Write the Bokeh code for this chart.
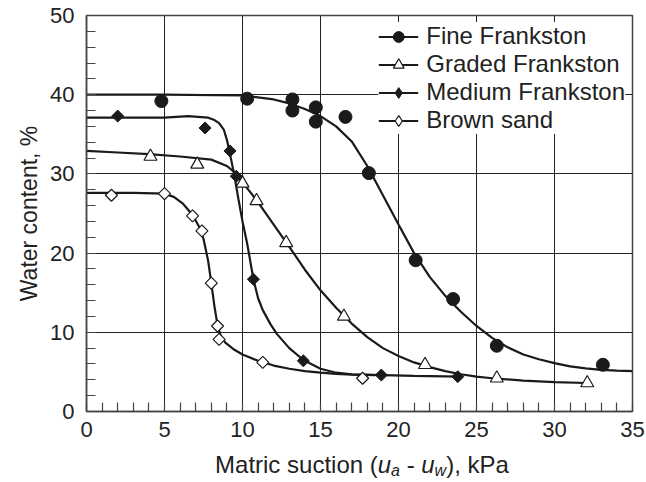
from bokeh.plotting import figure
from bokeh.layouts import column
from bokeh.models import SingleIntervalTicker, Legend, LegendItem, Range1d
from bokeh.core.properties import value
from bokeh.embed import file_html
from bokeh.resources import INLINE

# ---- measured points ----
fine_x = [4.8, 10.3, 13.2, 13.2, 14.7, 14.7, 16.6, 18.1, 21.1, 23.5, 26.3, 33.1]
fine_y = [39.2, 39.5, 39.4, 38.0, 38.4, 36.6, 37.2, 30.1, 19.1, 14.2, 8.3, 5.9]

graded_x = [4.1, 7.1, 10.0, 10.9, 12.8, 16.5, 21.7, 26.3, 32.1]
graded_y = [32.2, 31.2, 28.8, 26.6, 21.3, 12.0, 5.9, 4.2, 3.6]

medium_x = [2.0, 7.6, 9.2, 9.6, 10.7, 13.9, 18.9, 23.8]
medium_y = [37.3, 35.8, 32.9, 29.7, 16.7, 6.4, 4.6, 4.4]

brown_x = [1.6, 5.0, 6.8, 7.4, 8.0, 8.4, 8.5, 11.3, 17.7]
brown_y = [27.3, 27.5, 24.7, 22.8, 16.2, 10.8, 9.1, 6.2, 4.2]

# ---- fitted curves ----
fine_cx = [0, 5, 10, 12, 13, 14, 15, 16, 17, 18, 19, 20, 21, 22, 23, 24, 25, 26, 27, 28, 29, 30, 31, 32, 33, 34, 35]
fine_cy = [40, 40, 39.9, 39.4, 38.9, 38.2, 37.3, 36.0, 34.1, 31.0, 27.3, 23.6, 20.0, 17.0, 14.6, 12.6, 10.8, 9.3, 8.1, 7.2, 6.6, 6.1, 5.7, 5.45, 5.25, 5.15, 5.1]

graded_cx = [0, 2, 4, 6, 8, 9, 9.5, 10, 10.5, 11, 12, 13, 14, 15, 16, 17, 18, 19, 20, 21, 22, 23, 24, 25, 26, 28, 30, 32]
graded_cy = [32.9, 32.7, 32.5, 32.2, 31.8, 31.0, 30.2, 28.9, 27.7, 26.4, 23.6, 20.8, 17.9, 15.3, 13.1, 11.1, 9.4, 8.0, 7.0, 6.2, 5.6, 5.1, 4.7, 4.4, 4.2, 3.9, 3.7, 3.6]

medium_cx = [0, 5, 6.5, 7.8, 8.2, 8.5, 8.8, 9.0, 9.2, 9.45, 9.75, 10.0, 10.3, 10.7, 11.0, 11.3, 11.8, 12.2, 13.0, 13.9, 15, 16, 17, 19, 21, 24]
medium_cy = [37.1, 37.1, 37.3, 37.1, 36.8, 36.4, 35.6, 34.3, 32.5, 30.1, 26.7, 24.0, 21.2, 16.7, 14.3, 12.8, 11.0, 9.8, 8.0, 6.5, 5.4, 4.9, 4.7, 4.6, 4.5, 4.4]

brown_cx = [0, 3, 5, 5.6, 6.2, 6.8, 7.2, 7.5, 7.8, 8.0, 8.2, 8.4, 8.6, 8.9, 9.4, 10, 11, 12, 13, 14, 15, 16, 17, 18.5]
brown_cy = [27.6, 27.6, 27.5, 27.1, 26.2, 24.8, 23.4, 21.8, 19.0, 16.2, 13.3, 10.9, 9.6, 8.7, 7.9, 7.2, 6.4, 5.8, 5.4, 5.1, 4.9, 4.75, 4.65, 4.6]

series_names = ["Fine Frankston", "Graded Frankston", "Medium Frankston", "Brown sand"]
y_title = "Water content, %"
x_title_parts = ["Matric suction (", "u", "a", "-", "u", "w", "), kPa"]

x_ticks_interval = 5
y_ticks_interval = 10

FONT = "Liberation Sans"
INK = "#1a1a1a"
TXT = "#222222"

W = 646
H_MAIN = 446
H_TITLE = 36

p = figure(width=W, height=H_MAIN, x_range=Range1d(0, 35), y_range=Range1d(0, 50),
           output_backend="svg", toolbar_location=None,
           min_border_left=86, min_border_top=15, min_border_right=14, min_border_bottom=35)

p.xaxis.ticker = SingleIntervalTicker(interval=x_ticks_interval, num_minor_ticks=5)
p.yaxis.ticker = SingleIntervalTicker(interval=y_ticks_interval, num_minor_ticks=5)

p.grid.grid_line_color = "#222222"
p.grid.grid_line_width = 1
p.outline_line_color = "#444444"
p.outline_line_width = 1.5
p.outline_line_alpha = 1

for ax in (p.xaxis, p.yaxis):
    ax.axis_line_color = "#444444"
    ax.axis_line_width = 1.5
    ax.major_tick_in = 0
    ax.major_tick_out = 0
    ax.minor_tick_in = 9
    ax.minor_tick_out = 0
    ax.minor_tick_line_color = "#444444"
    ax.minor_tick_line_width = 1.2
    ax.major_label_text_font = FONT
    ax.major_label_text_font_size = "22px"
    ax.major_label_text_color = TXT

p.xaxis.major_label_standoff = 10
p.yaxis.major_label_standoff = 12

p.yaxis.axis_label = y_title
p.yaxis.axis_label_text_font = FONT
p.yaxis.axis_label_text_font_size = "23px"
p.yaxis.axis_label_text_font_style = "normal"
p.yaxis.axis_label_text_color = TXT
p.yaxis.axis_label_standoff = 5

LW = 2.2
l1 = p.line(fine_cx, fine_cy, line_color=INK, line_width=LW)
l2 = p.line(graded_cx, graded_cy, line_color=INK, line_width=LW)
l3 = p.line(medium_cx, medium_cy, line_color=INK, line_width=LW)
l4 = p.line(brown_cx, brown_cy, line_color=INK, line_width=LW)

# legend-only diamond glyphs (legend markers are never rotated); zero size in the plot
lg3 = p.scatter(medium_x, medium_y, marker="diamond", size=0, fill_color=INK, line_color=INK)
lg4 = p.scatter(brown_x, brown_y, marker="diamond", size=0, fill_color="white",
                line_color=INK, line_width=1.2)

s1 = p.scatter(fine_x, fine_y, marker="circle", size=13, fill_color=INK, line_color=INK)
s2 = p.scatter(graded_x, graded_y, marker="triangle", size=13, fill_color="white",
               line_color=INK, line_width=1.2)
p.scatter(medium_x, medium_y, marker="square", size=8.5, angle=45, angle_units="deg",
          fill_color=INK, line_color=INK)
p.scatter(brown_x, brown_y, marker="square", size=8.5, angle=45, angle_units="deg",
          fill_color="white", line_color=INK, line_width=1.2)

legend = Legend(items=[
    LegendItem(label=series_names[0], renderers=[l1, s1]),
    LegendItem(label=series_names[1], renderers=[l2, s2]),
    LegendItem(label=series_names[2], renderers=[l3, lg3]),
    LegendItem(label=series_names[3], renderers=[l4, lg4]),
], location="top_right")
legend.background_fill_color = "white"
legend.background_fill_alpha = 1
legend.border_line_color = None
legend.label_text_font = FONT
legend.label_text_font_size = "24px"
legend.label_text_color = TXT
legend.glyph_width = 40
legend.glyph_height = 27
legend.label_height = 27
legend.spacing = 0
legend.padding = 2
legend.margin = 7
legend.label_standoff = 8
p.add_layout(legend)

# ---- x-axis title strip (with subscripts) ----
t = figure(width=W, height=H_TITLE, x_range=Range1d(0, W), y_range=Range1d(0, H_TITLE),
           output_backend="svg", toolbar_location=None,
           x_axis_location=None, y_axis_location=None,
           min_border_left=0, min_border_right=0, min_border_top=0, min_border_bottom=0)
t.grid.visible = False
t.outline_line_color = None

center_x = (86 + (W - 14)) / 2 - 33
base_y = 18
sub_y = 12
offsets = [-147.0, 15.7, 29.0, 44.6, 59.2, 72.5, 84.1]
sizes = ["24px", "24px", "16px", "24px", "24px", "16px", "24px"]
styles = ["normal", "italic", "italic", "normal", "italic", "italic", "normal"]
ys = [base_y, base_y, sub_y, base_y, base_y, sub_y, base_y]
for txt, xo, fs, st, yy in zip(x_title_parts, offsets, sizes, styles, ys):
    t.text(x=[center_x], y=[yy], text=[txt], x_offset=xo, text_font=value(FONT),
           text_font_size=value(fs), text_font_style=st, text_color=TXT,
           text_align="left", text_baseline="alphabetic")

layout = column(p, t, spacing=0)
open("out.html", "w").write(file_html(layout, INLINE))
